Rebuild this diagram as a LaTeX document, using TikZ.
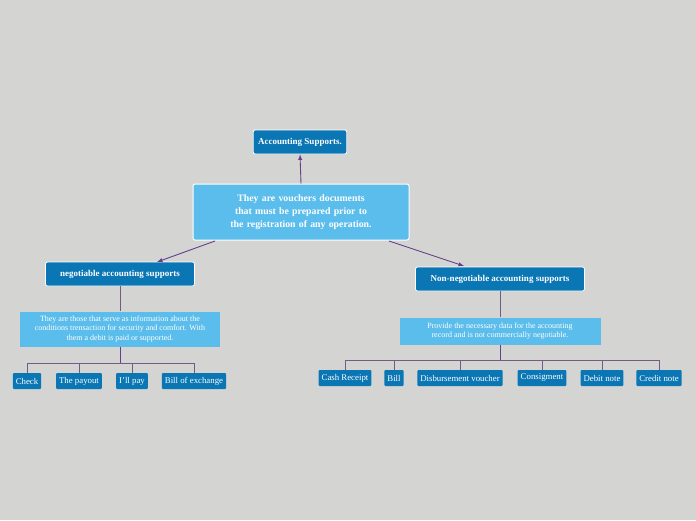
\documentclass[tikz,border=0pt]{standalone}
\usepackage{fontspec}
\setmainfont{Liberation Serif}
\begin{document}
\begin{tikzpicture}[x=1pt,y=-1pt,
 dark/.style={fill=darkb,draw=white,line width=0.8pt,rounded corners=2pt,text=white,font=\bfseries\fontsize{9}{11}\selectfont,inner sep=5pt,minimum height=24pt},
 main/.style={fill=lightb,draw=white,line width=1pt,rounded corners=2pt,text=white,font=\bfseries\fontsize{9.8}{13}\selectfont,text width=196pt,align=center,inner sep=5pt,minimum height=56pt,minimum width=216pt},
 desc/.style={fill=lightb,text=white,font=\fontsize{8}{9.3}\selectfont,align=center,inner sep=2pt},
 leaf/.style={fill=darkb,rounded corners=1pt,text=white,font=\fontsize{8.8}{10}\selectfont,inner sep=3pt,minimum height=16pt},
 arr/.style={draw=purp,line width=0.9pt,-latex},
 tree/.style={draw=purp!55!gray,line width=0.7pt}]
\definecolor{darkb}{HTML}{0A76B4}
\definecolor{lightb}{HTML}{5BBDEB}
\definecolor{purp}{HTML}{6A3D8A}
\fill[fill={rgb,255:red,212;green,213;blue,211}] (0,0) rectangle (696,520);
\useasboundingbox (0,0) rectangle (696,520);
\node[dark] (top) at (300,142) {Accounting Supports.};
\node[main] (m) at (301,212) {\hyphenpenalty=10000 They are vouchers documents that must be prepared prior to the registration of any operation.};
\node[dark,minimum width=149pt] (neg) at (120,274) {negotiable accounting supports};
\node[dark,minimum width=169pt] (non) at (500,279) {Non-negotiable accounting supports};
\node[desc,minimum width=200pt,minimum height=35pt] (ld) at (120,329) {They are those that serve as information about the\\conditions trensaction for security and comfort. With\\them a debit is paid or supported.};
\node[desc,minimum width=201pt,minimum height=27pt] (rd) at (500,331) {Provide the necessary data for the accounting\\record and is not commercially negotiable.};
\draw[arr] (m.north) -- (top.south);
\draw[arr] (215,241) -- (157,262);
\draw[arr] (389,241) -- (464,266);
\draw[tree] (neg) -- (ld);
\draw[tree] (non) -- (rd);
\foreach \n/\x/\t in {l1/27/Check,l2/79/The payout,l3/132/I'll pay,l4/194/Bill of exchange}{
 \node[leaf] (\n) at (\x,381) {\t};
 \draw[tree] (\n.north) -- (\x,363) -- (120,363);}
\draw[purp,line width=0.9pt] (ld.south) -- (120,363);
\foreach \n/\x/\t in {r1/345/Cash Receipt,r2/394/Bill,r3/460/Disbursement voucher,r4/542/Consigment,r5/602/Debit note,r6/659/Credit note}{
 \node[leaf] (\n) at (\x,378) {\t};
 \draw[tree] (\n.north) -- (\x,360) -- (500,360);}
\draw[purp,line width=0.9pt] (rd.south) -- (500,360);
\end{tikzpicture}
\end{document}
